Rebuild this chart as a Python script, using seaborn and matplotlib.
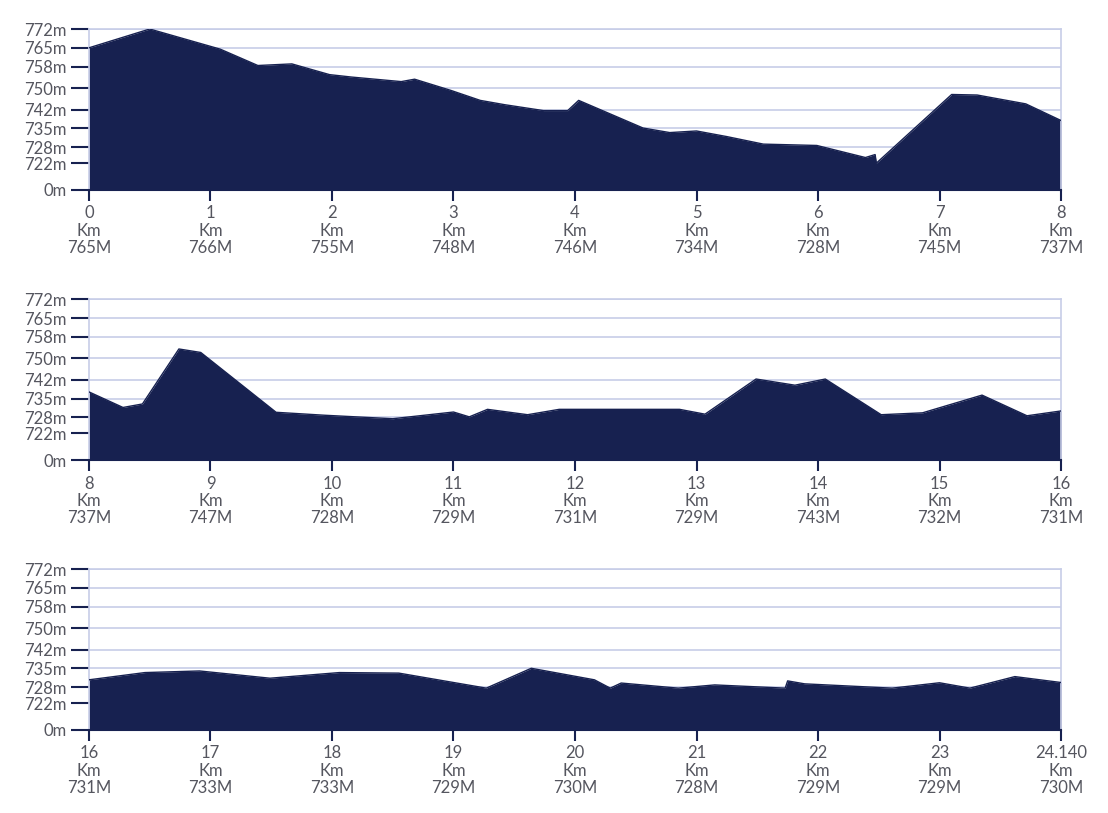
import numpy as np
import pandas as pd
import seaborn as sns
import matplotlib.pyplot as plt

# %%
# elevation profile (km, metres)
km1 = [0.0, 0.50, 1.08, 1.39, 1.67, 1.98, 2.16, 2.57, 2.68, 2.98, 3.22, 3.42, 3.74, 3.94, 4.03,
       4.56, 4.78, 5.0, 5.25, 5.55, 5.99, 6.39, 6.47, 6.48, 7.10, 7.31, 7.71, 8.0]
elev1 = [765, 772, 764.5, 758.4, 759, 755, 754.1, 752.4, 753.3, 749.1, 745.4, 743.8, 741.6, 741.6, 745.4,
         735.1, 733.4, 734, 731.9, 729.1, 728.6, 724.1, 725.2, 722, 747.6, 747.4, 744.1, 737.9]

km2 = [8.0, 8.28, 8.44, 8.74, 8.92, 9.54, 9.94, 10.50, 11.0, 11.13, 11.28, 11.61, 11.87, 12.86,
       13.07, 13.49, 13.81, 14.06, 14.52, 14.86, 15.35, 15.72, 16.0]
elev2 = [737.5, 731.7, 733, 753.5, 752.2, 729.9, 728.8, 727.5, 730, 728.2, 731, 729, 731, 731,
         729.2, 742.3, 740, 742.3, 729, 729.7, 736.3, 728.6, 730.4]

km3 = [16.0, 16.46, 16.91, 17.49, 18.06, 18.55, 19.27, 19.64, 20.16, 20.29, 20.38, 20.85, 21.15,
       21.73, 21.75, 21.89, 22.61, 23.0, 23.25, 23.62, 24.0]
elev3 = [730.7, 733.4, 734, 731.3, 733.4, 733.2, 727.6, 735, 730.7, 727.6, 729.5, 727.6, 728.8,
         727.6, 730.3, 729.2, 727.6, 729.6, 727.6, 731.9, 729.7]

# km markers and the elevation printed under each one
marks1 = [0, 1, 2, 3, 4, 5, 6, 7, 8]
mark_elev1 = [765, 766, 755, 748, 746, 734, 728, 745, 737]
marks2 = [8, 9, 10, 11, 12, 13, 14, 15, 16]
mark_elev2 = [737, 747, 728, 729, 731, 729, 743, 732, 731]
marks3 = [16, 17, 18, 19, 20, 21, 22, 23, 24]
mark_names3 = ["16", "17", "18", "19", "20", "21", "22", "23", "24.140"]
mark_elev3 = [731, 733, 733, 729, 730, 728, 729, 729, 730]

y_ticks = [712, 722, 728, 735, 742, 750, 758, 765, 772]
y_labels = ["0m", "722m", "728m", "735m", "742m", "750m", "758m", "765m", "772m"]

# %%
sns.set_theme(style="white")
plt.rcParams["font.family"] = ["Lato", "DejaVu Sans"]

navy = "#172150"
grid_col = "#c7cde8"
text_col = "#55565f"

fig = plt.figure(figsize=(11.08, 8.13), dpi=100)

panels = [
    (km1, elev1, marks1, [str(m) for m in marks1], mark_elev1, 0.7663),
    (km2, elev2, marks2, [str(m) for m in marks2], mark_elev2, 0.4338),
    (km3, elev3, marks3, mark_names3, mark_elev3, 0.1021),
]

for km, elev, marks, names, mark_elev, bottom in panels:
    ax = fig.add_axes([0.0803, bottom, 0.8773, 0.198])
    df = pd.DataFrame({"km": km, "elev": elev})

    ax.fill_between(df.km, df.elev, 712, color=navy, lw=0, zorder=2)
    sns.lineplot(data=df, x="km", y="elev", ax=ax, color=navy, lw=1, zorder=3)

    ax.set_xlim(marks[0], marks[-1])
    ax.set_ylim(712, 772)
    ax.set_yticks(y_ticks)
    ax.set_yticklabels(y_labels)
    ax.set_xticks(marks)
    ax.set_xticklabels([f"{n}\nKm\n{e}M" for n, e in zip(names, mark_elev)], linespacing=1.1)

    ax.grid(axis="y", color=grid_col, lw=1.2, zorder=1)
    ax.grid(axis="x", visible=False)
    ax.set_xlabel("")
    ax.set_ylabel("")

    for side in ["left", "right", "top"]:
        ax.spines[side].set_color(grid_col)
        ax.spines[side].set_linewidth(1.2)
    ax.spines["bottom"].set_color(navy)
    ax.spines["bottom"].set_linewidth(1.5)

    ax.tick_params(axis="y", direction="out", length=13, width=1.5, color=navy,
                   pad=3, labelsize=12, labelcolor=text_col, left=True)
    ax.tick_params(axis="x", direction="out", length=8, width=1.5, color=navy,
                   pad=3, labelsize=12, labelcolor=text_col, bottom=True)

plt.savefig("out.png", dpi=100)
